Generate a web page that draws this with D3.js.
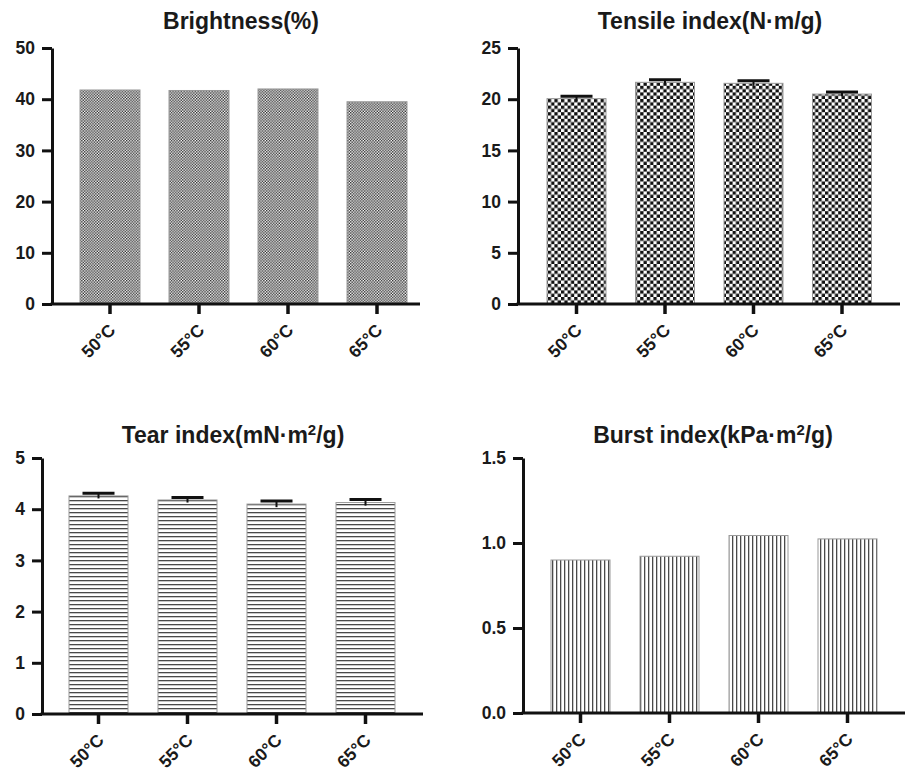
<!DOCTYPE html>
<html>
<head>
<meta charset="utf-8">
<script src="https://cdn.jsdelivr.net/npm/d3@7"></script>
<style>
  body { margin: 0; background: #fff; }
  text { font-family: Arial, "Liberation Sans", Helvetica, sans-serif; font-weight: bold; fill: #1a1a1a; }
</style>
</head>
<body>
<svg id="chart" width="905" height="772"></svg>
<script>
// data
var temps = ["50°C", "55°C", "60°C", "65°C"];

var brightness = [41.8, 41.7, 42.0, 39.5];
var brightnessErr = [0, 0, 0, 0];

var tensile = [20.05, 21.65, 21.55, 20.5];
var tensileErr = [0.25, 0.25, 0.25, 0.2];

var tear = [4.26, 4.18, 4.10, 4.13];
var tearErr = [0.05, 0.05, 0.06, 0.06];

var burst = [0.90, 0.922, 1.044, 1.024];
var burstErr = [0, 0, 0, 0];

var brightnessTicks = [0, 10, 20, 30, 40, 50];
var tensileTicks = [0, 5, 10, 15, 20, 25];
var tearTicks = [0, 1, 2, 3, 4, 5];
var burstTicks = [0, 0.5, 1.0, 1.5];

var svg = d3.select("#chart");
var defs = svg.append("defs");

// fill patterns
function checker(id, cell, dark) {
  var p = defs.append("pattern").attr("id", id)
    .attr("patternUnits", "userSpaceOnUse")
    .attr("width", cell * 2).attr("height", cell * 2);
  p.append("rect").attr("width", cell * 2).attr("height", cell * 2).attr("fill", "#fff");
  p.append("rect").attr("width", cell).attr("height", cell).attr("fill", dark);
  p.append("rect").attr("x", cell).attr("y", cell).attr("width", cell).attr("height", cell).attr("fill", dark);
}
checker("fine", 1.4, "#2a2a2a");
checker("coarse", 3.3, "#111");

var hp = defs.append("pattern").attr("id", "hlines")
  .attr("patternUnits", "userSpaceOnUse").attr("width", 8).attr("height", 4);
hp.append("rect").attr("width", 8).attr("height", 4).attr("fill", "#fff");
hp.append("rect").attr("y", 0).attr("width", 8).attr("height", 1.3).attr("fill", "#4a4a4a");

var vp = defs.append("pattern").attr("id", "vlines")
  .attr("patternUnits", "userSpaceOnUse").attr("width", 4).attr("height", 8);
vp.append("rect").attr("width", 4).attr("height", 8).attr("fill", "#fff");
vp.append("rect").attr("x", 0).attr("width", 1.3).attr("height", 8).attr("fill", "#4a4a4a");

function drawPanel(cfg) {
  var g = svg.append("g");

  var y = d3.scaleLinear().domain(cfg.domain).range([cfg.y0, cfg.yTop]);
  var x = d3.scaleBand().domain(temps)
    .range([cfg.firstLeft, cfg.firstLeft + 3 * cfg.step + cfg.barW])
    .paddingInner(1 - cfg.barW / cfg.step).paddingOuter(0);

  // bars
  g.selectAll(".bar").data(cfg.values).enter().append("rect")
    .attr("class", "bar")
    .attr("x", function(d, i) { return x(temps[i]); })
    .attr("y", function(d) { return y(d); })
    .attr("width", x.bandwidth())
    .attr("height", function(d) { return cfg.y0 - y(d); })
    .attr("fill", "url(#" + cfg.pattern + ")")
    .attr("stroke", "#999")
    .attr("stroke-width", 1);

  // error bars (upper half only, lower hidden by bar)
  cfg.errs.forEach(function(e, i) {
    if (!e) return;
    var cx = x(temps[i]) + x.bandwidth() / 2;
    var v = cfg.values[i];
    g.append("line").attr("x1", cx).attr("x2", cx)
      .attr("y1", y(v - e)).attr("y2", y(v + e))
      .attr("stroke", "#111").attr("stroke-width", 2);
    g.append("line").attr("x1", cx - 16).attr("x2", cx + 16)
      .attr("y1", y(v + e)).attr("y2", y(v + e))
      .attr("stroke", "#111").attr("stroke-width", 3);
  });

  // y axis
  var yAxis = d3.axisLeft(y).tickValues(cfg.ticks)
    .tickFormat(cfg.fmt).tickSize(10).tickSizeOuter(0).tickPadding(7);
  var ya = g.append("g").attr("transform", "translate(" + cfg.yAxisX + ",0)").call(yAxis);
  ya.select(".domain").attr("stroke", "#111").attr("stroke-width", 3);
  ya.selectAll(".tick line").attr("stroke", "#111").attr("stroke-width", 3);
  ya.selectAll(".tick text").style("font-size", "17.5px").style("font-weight", "bold")
    .style("font-family", "Arial, 'Liberation Sans', sans-serif")
    .attr("fill", "#1a1a1a");

  // x axis
  var xAxis = d3.axisBottom(x).tickSize(10).tickSizeOuter(0).tickFormat("");
  var xa = g.append("g").attr("transform", "translate(0," + cfg.y0 + ")").call(xAxis);
  xa.select(".domain").remove();
  xa.selectAll(".tick line").attr("stroke", "#111").attr("stroke-width", 3.5);
  xa.append("line").attr("x1", cfg.yAxisX - 1.5).attr("x2", cfg.axisEnd)
    .attr("y1", 0).attr("y2", 0).attr("stroke", "#111").attr("stroke-width", 3);

  g.selectAll(".xlab").data(temps).enter().append("text")
    .attr("class", "xlab")
    .attr("transform", function(d) {
      return "translate(" + (x(d) + x.bandwidth() / 2 + 2) + "," + (cfg.y0 + 23) + ") rotate(-45)";
    })
    .attr("text-anchor", "end")
    .attr("dy", "0.35em")
    .style("font-size", "17.5px")
    .text(function(d) { return d; });

  // title
  var t = g.append("text").attr("x", cfg.titleX).attr("y", cfg.titleY)
    .attr("text-anchor", "middle").style("font-size", "23px");
  var shifted = false;
  cfg.title.forEach(function(part) {
    var ts = t.append("tspan").text(part.t);
    if (part.sup) {
      ts.attr("dy", -8).style("font-size", "15px");
      shifted = true;
    } else if (shifted) {
      ts.attr("dy", 8);
      shifted = false;
    }
  });
}

drawPanel({
  values: brightness, errs: brightnessErr, ticks: brightnessTicks, domain: [0, 50],
  fmt: d3.format("d"), pattern: "fine",
  yAxisX: 52, y0: 304, yTop: 48, firstLeft: 80, step: 89, barW: 60, axisEnd: 420,
  titleX: 241, titleY: 29, title: [{t: "Brightness(%)"}]
});

drawPanel({
  values: tensile, errs: tensileErr, ticks: tensileTicks, domain: [0, 25],
  fmt: d3.format("d"), pattern: "coarse",
  yAxisX: 518, y0: 304, yTop: 48, firstLeft: 547, step: 88.5, barW: 59, axisEnd: 900,
  titleX: 710, titleY: 29, title: [{t: "Tensile index(N·m/g)"}]
});

drawPanel({
  values: tear, errs: tearErr, ticks: tearTicks, domain: [0, 5],
  fmt: d3.format("d"), pattern: "hlines",
  yAxisX: 42, y0: 714, yTop: 458, firstLeft: 69, step: 89, barW: 59, axisEnd: 423,
  titleX: 233, titleY: 443, title: [{t: "Tear index(mN·m"}, {t: "2", sup: true}, {t: "/g)"}]
});

drawPanel({
  values: burst, errs: burstErr, ticks: burstTicks, domain: [0, 1.5],
  fmt: d3.format(".1f"), pattern: "vlines",
  yAxisX: 523, y0: 713, yTop: 458, firstLeft: 551, step: 89, barW: 59, axisEnd: 905,
  titleX: 713, titleY: 443, title: [{t: "Burst index(kPa·m"}, {t: "2", sup: true}, {t: "/g)"}]
});
</script>
</body>
</html>
